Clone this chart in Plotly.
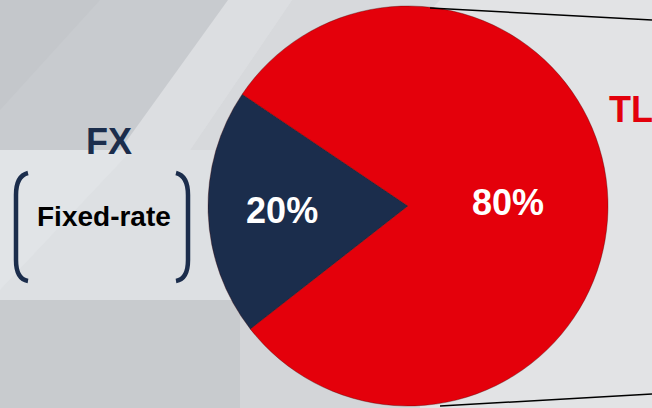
import plotly.graph_objects as go

categories = ["FX", "TL"]
values = [20, 80]
colors = ["#1b2d4c", "#e4000b"]

FONT = "Liberation Sans, Arial, sans-serif"

fig = go.Figure()

fig.add_trace(go.Pie(
    labels=categories,
    values=values,
    sort=False,
    direction="clockwise",
    rotation=232,
    marker=dict(colors=colors, line=dict(color="rgba(60,0,0,0.35)", width=1)),
    texttemplate="<b>%{percent:.0%}</b>",
    textposition="inside",
    insidetextorientation="horizontal",
    textfont=dict(family=FONT, size=36, color="white"),
    showlegend=False,
    hoverinfo="label+percent",
    domain=dict(x=[208/652, 608/652], y=[2/408, 402/408]),
))


def px(x):
    return x / 652


def py(y):
    return 1 - y / 408


def poly(pts):
    s = "M " + " L ".join(f"{px(x)} {py(y)}" for x, y in pts) + " Z"
    return s


shapes = []
bg = [
    ([(0, 0), (238, 0), (132, 150), (0, 150)], "#c8cbcf"),
    ([(0, 0), (100, 0), (0, 110)], "#c4c7cb"),
    ([(228, 0), (292, 0), (190, 150), (120, 150)], "#dcdee1"),
    ([(292, 0), (440, 0), (300, 150), (190, 150)], "#d7d9dc"),
    ([(0, 150), (232, 150), (232, 300), (0, 300)], "#dde0e3"),
    ([(0, 150), (132, 150), (0, 290)], "#e1e4e7"),
    ([(0, 300), (240, 300), (240, 408), (0, 408)], "#c8cbce"),
    ([(240, 300), (420, 300), (420, 408), (240, 408)], "#d3d5d8"),
]
for pts, col in bg:
    shapes.append(dict(type="path", xref="paper", yref="paper", path=poly(pts),
                       fillcolor=col, line=dict(width=0), layer="below"))

# perspective lines on right
shapes.append(dict(type="line", xref="paper", yref="paper",
                   x0=px(430), y0=py(8), x1=1, y1=py(20),
                   line=dict(color="black", width=1.5)))
shapes.append(dict(type="line", xref="paper", yref="paper",
                   x0=px(440), y0=py(406), x1=1, y1=py(394),
                   line=dict(color="black", width=1.5)))

# brackets
lb = f"M {px(28)} {py(173)} Q {px(16)} {py(176)} {px(16)} {py(195)} L {px(16)} {py(260)} Q {px(16)} {py(279)} {px(28)} {py(281)}"
rb = f"M {px(176)} {py(173)} Q {px(188)} {py(176)} {px(188)} {py(195)} L {px(188)} {py(260)} Q {px(188)} {py(279)} {px(176)} {py(281)}"
for p in (lb, rb):
    shapes.append(dict(type="path", xref="paper", yref="paper", path=p,
                       line=dict(color="#1b2d4c", width=4.5)))

annotations = [
    dict(text="<b>FX</b>", x=px(109), y=py(141), xref="paper", yref="paper",
         xanchor="center", yanchor="middle",
         showarrow=False, font=dict(family=FONT, size=36, color="#1b2d4c")),
    dict(text="<b>Fixed-rate</b>", x=px(104), y=py(216), xref="paper", yref="paper",
         xanchor="center", yanchor="middle",
         showarrow=False, font=dict(family=FONT, size=28, color="black")),
    dict(text="<b>TL</b>", x=px(607), y=py(110), xref="paper", yref="paper",
         xanchor="left", yanchor="middle",
         showarrow=False, font=dict(family=FONT, size=36, color="#e3000b")),
]

fig.update_layout(
    width=652, height=408,
    margin=dict(l=0, r=0, t=0, b=0),
    paper_bgcolor="#e2e3e5",
    plot_bgcolor="#e2e3e5",
    shapes=shapes,
    annotations=annotations,
)

fig.write_html("out.html")
